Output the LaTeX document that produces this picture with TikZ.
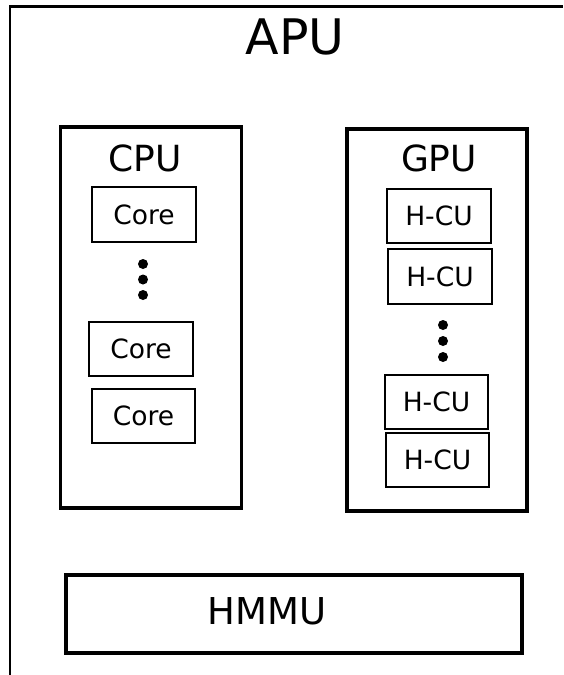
\documentclass[tikz,border=0pt]{standalone}
\usepackage{fontspec}
\setmainfont{DejaVu Sans}
\begin{document}
\begin{tikzpicture}[x=1pt,y=-1pt,
  unitbox/.style={draw, line width=1.5pt, inner sep=0pt, font=\fontsize{26.5}{30}\selectfont},
  groupbox/.style={draw, line width=3.6pt, inner sep=0pt},
  vdot/.style={circle, fill=black, inner sep=0pt, minimum size=10pt}]
  \useasboundingbox (0,0) rectangle (563,675);
  % outer frame of the APU
  \draw[line width=2.6pt] (10,675) -- (10,6.5) -- (563,6.5);
  \node[font=\fontsize{49}{54}\selectfont] (apu) at (295,37) {APU};

  % CPU group
  \node[groupbox, minimum width=181pt, minimum height=381pt] (cpu) at (151,317.5) {};
  \node[font=\fontsize{36}{40}\selectfont] (cpulabel) at (145,158) {CPU};
  \node[unitbox, minimum width=104pt, minimum height=55pt] (core1) at (144,214.5) {Core};
  \node[vdot] (cd1) at (143,264) {};
  \node[vdot] (cd2) at (143,279.5) {};
  \node[vdot] (cd3) at (143,295) {};
  \node[unitbox, minimum width=104pt, minimum height=54pt] (core2) at (141,349) {Core};
  \node[unitbox, minimum width=103pt, minimum height=54pt] (core3) at (143.5,416) {Core};

  % GPU group
  \node[groupbox, minimum width=180pt, minimum height=382pt] (gpu) at (437,320) {};
  \node[font=\fontsize{36}{40}\selectfont] (gpulabel) at (439,158) {GPU};
  \node[unitbox, minimum width=104pt, minimum height=54pt] (hcu1) at (439,216) {H-CU};
  \node[unitbox, minimum width=104pt, minimum height=55pt] (hcu2) at (440,276.5) {H-CU};
  \node[vdot] (gd1) at (443,325) {};
  \node[vdot] (gd2) at (443,341) {};
  \node[vdot] (gd3) at (443,357) {};
  \node[unitbox, minimum width=103pt, minimum height=54pt] (hcu3) at (436.5,402) {H-CU};
  \node[unitbox, minimum width=103pt, minimum height=54pt] (hcu4) at (437.5,460) {H-CU};

  % memory management unit
  \node[groupbox, minimum width=456pt, minimum height=78pt] (hmmu) at (294,614) {};
  \node[font=\fontsize{37}{40}\selectfont] (hmmulabel) at (267,611) {HMMU};
\end{tikzpicture}
\end{document}
